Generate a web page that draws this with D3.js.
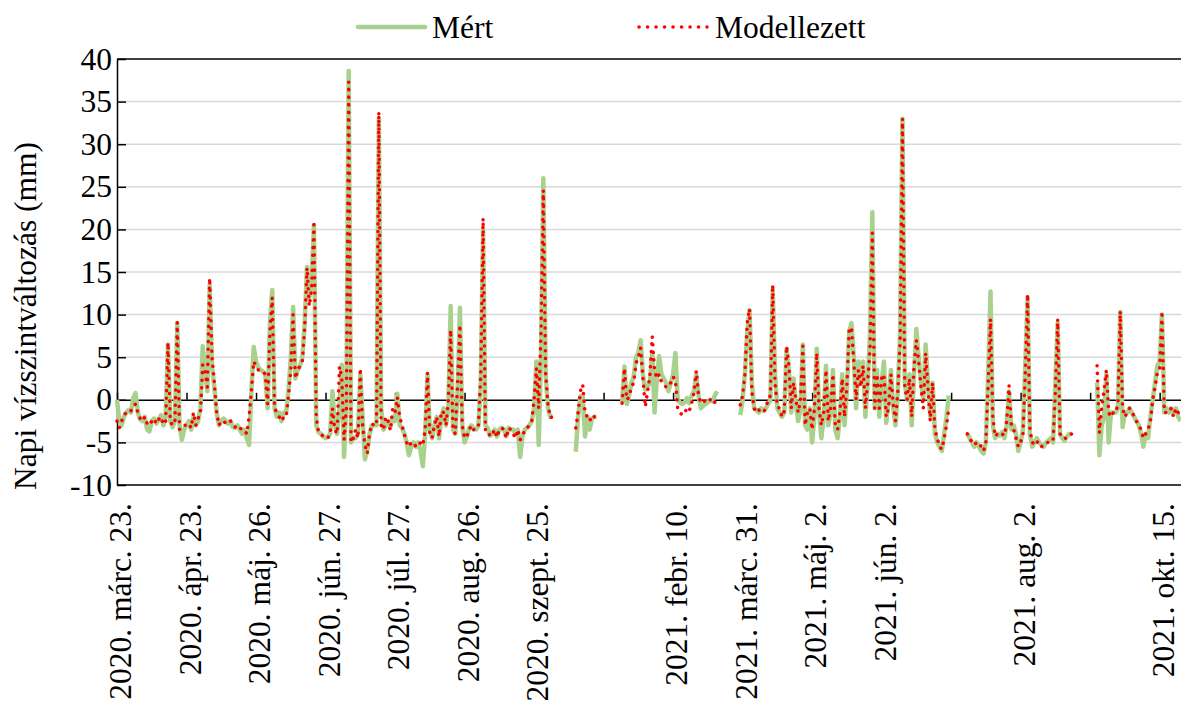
<!DOCTYPE html>
<html>
<head>
<meta charset="utf-8">
<script src="https://cdn.jsdelivr.net/npm/d3@7"></script>
<style>
  body { margin: 0; background: #fff; }
  text { font-family: "Liberation Serif", "Times New Roman", serif; fill: #000; }
</style>
</head>
<body>
<div id="chart"></div>
<script>
// labels shown every 30 categories (blank ones are empty date cells)
var labelEvery = 30;
var tickLabels = ['2020. márc. 23.', '2020. ápr. 23.', '2020. máj. 26.', '2020. jún. 27.',
  '2020. júl. 27.', '2020. aug. 26.', '2020. szept. 25.', '', '2021. febr. 10.',
  '2021. márc. 31.', '2021. máj. 2.', '2021. jún. 2.', '', '2021. aug. 2.', '', '2021. okt. 15.'];
var yTicks = [-10, -5, 0, 5, 10, 15, 20, 25, 30, 35, 40];
var seriesNames = ['Mért', 'Modellezett'];

// daily values, null = no data
var measured = [
  0, -2.5, -3, -2, -1.5, -1.2, -1.5, 0.2, 0.8, -1.5,
  -2.3, -2.5, -2, -3.5, -3.7, -2.5, -2.2, -2.8, -2.3, -1.8,
  -3, -2, 6.5, -2.5, -3.2, -2.5, 9, -3, -4.7, -3.5,
  -3, -2.5, -3.5, -2, -3, -2.5, -1, 6.3, 3, 1,
  13.5, 4, 1.5, -1.5, -3, -2.5, -2.2, -2.5, -2.8, -2.5,
  -3.2, -3.3, -3, -3.5, -4, -3.5, -4.5, -5.3, 1, 6.2,
  4.5, 3.8, 3.5, 3.3, 3, -1, 9, 12.9, -1, -2,
  -1.5, -2.5, -1.5, -1.5, 1, 4.9, 10.9, 2.5, 3.5, 4,
  5, 9, 15.6, 12, 14, 20.5, -3, -3.8, -4, -4.3,
  -4.5, -4.3, -4, 1, -3, -4, -1, 4.1, -6.7, 0,
  38.6, -5, -4.5, -4.5, -4, 3, -2, -7, -6, -4,
  -3, -3, -3, 33, -1, -3.5, -3, -2.5, -3.2, -2,
  -2.5, 0.7, -3, -3.3, -4, -5, -6.5, -5.5, -5, -5.5,
  -5, -6, -7.8, -4, 3, -3.5, -4.5, -3, -2, -4.5,
  -2, -1, -3, -1, 11, -3.5, -4, 1, 10.8, -3,
  -5, -4.3, -3.3, -3, -3.5, -3.5, -3, 2, 20, -3,
  -3.3, -4.2, -4, -3.5, -4.3, -3.5, -3.3, -3.5, -4.3, -3.3,
  -3.5, -3.5, -4, -3.5, -6.7, -4.3, -3.5, -3.3, -3, -2.5,
  -1, 4.5, -5.3, 5, 26, 3, -1, -2, -2, null,
  null, null, null, null, null, null, null, null, -6.1, -2,
  0.4, 0.5, -4.3, -2, -3.5, -2.2, -2, -2, null, null,
  null, null, null, null, null, null, null, null, -0.3, 3.9,
  -0.5, 0.5, 2, 2.7, 5, 5.5, 7, 3, 1.2, 1.5,
  2, 5.5, -1.5, 2.5, 5.1, 3, 2.5, 2, 1, 2,
  3, 5.5, 0, -0.3, -0.5, -0.3, 0.2, -0.4, 0.5, 1,
  3, 0.5, -1, -0.7, -0.5, -0.3, 0, -0.2, 0.5, 1,
  null, null, null, null, null, null, null, null, null, -1.8,
  0, 3, 8, 10.5, 2, -1, -1.2, -1.5, -1, -1.3,
  -1, -0.5, 0, 13, 3, -1, -1.5, -2, -1.5, 6,
  3.5, -1.5, 2.5, -0.5, -2.5, -1, 6.5, -3, -3.5, -1,
  -5, -2, 6, -1.5, -4.5, -2, 4, -3, -1.5, 3.5,
  -3.5, -4.5, -2, 3, -3, 1, 8, 9, 5, -1,
  4.5, 2, 4.5, -2, 2, 8, 22, -1, 3.5, -2,
  2, 4.5, -2.7, 0, 3.5, -1, -3, 1, 8, 33,
  2, 0, 3, -3, 3, 8.3, 5, 2, 0, 6.5,
  2, -2, 2, -4, -5, -5.5, -6, -4, -2, 0.5,
  null, null, null, null, null, null, null, -4, -4.5, -5,
  -5.5, -5, -5.5, -6, -6.3, -5, 3, 12.7, -3, -4.5,
  -4, -4.2, -3.8, -4.5, -3, 1, -3.5, -3, -4, -6,
  -5, -3.5, 4, 12, -4, -5.5, -5, -4.5, -5, -5.3,
  -5.5, -5, -4.8, -4.5, -5, 2, 9, -4, -4.5, -4.8,
  -4.3, -4, -4, null, null, null, null, null, null, null,
  null, null, null, 2, -6.5, -3, -2, 3, -5, -1.5,
  -1.5, -1.5, -1, 10.3, -3.2, -1.5, -1.5, -1, -1.5, -2,
  -2.5, -3, -4, -5.5, -4, -4.5, -2, 0, 2, 4,
  4.5, 10, -1.5, -1, -1.5, -1, -1.5, -1, -2, -2.5
];

var modelled = [
  -2.5, -3.3, -2.5, -1.8, -1.5, -1.2, -1.3, -0.8, -0.5, -1.5,
  -2.2, -2.5, -2, -2.8, -3, -2.5, -2.2, -2.8, -2.3, -2,
  -2.9, -2.5, 6.7, -2.5, -3, -2.5, 9.1, -3.5, -3.3, -3,
  -3, -2.8, -3.3, -1.5, -3, -2.2, -1.5, 4.1, 3.5, 1.5,
  14.3, 5, 2, -1.5, -3, -2.5, -2.5, -2.8, -2.8, -2.5,
  -3, -3.2, -3, -3.3, -3.5, -3.5, -4, -2, 1, 4.5,
  4, 3.5, 3.5, 3.3, 3, -0.5, 8, 12, -1, -1.5,
  -2, -2.5, -2, -2, 0.5, 3.5, 10, 2.5, 3.5, 4,
  4.5, 8.5, 15.5, 11, 13, 21, -2, -3.8, -4, -4.3,
  -4.5, -4.5, -4, -1, -3.5, -4, 3.9, 2.7, -4.7, -1,
  37.3, -5, -4.5, -3.5, -4.5, 3.7, -3, -5.3, -6.3, -4,
  -2.8, -3, -3, 33.8, -3, -3.5, -2, -2.5, -3.6, -1,
  -1.5, 0.3, -2, -3, -4, -5, -5.5, -5, -5, -5.5,
  -5.5, -5, -5.3, -3.5, 3.2, -4, -4.5, -3, -2, -4.3,
  -1.3, -1.5, -3, 0, 8.2, -3.5, -4, 2, 8.8, -3,
  -4.5, -4.3, -3.5, -3, -3.5, -3.5, -3, 3, 21.3, -3.5,
  -3.5, -4.3, -4, -3.5, -4.4, -3.5, -3.3, -3.5, -4.5, -3.3,
  -3.5, -4, -4.5, -3.5, -4.7, -4.3, -3.5, -3.3, -3, -2.5,
  0, 3.7, -1, 8, 24.6, 3, -0.5, -2.1, -2, null,
  null, null, null, null, null, null, null, null, -3.3, -1.5,
  1, 1.8, -1.5, -2, -2.5, -1.8, -2, -2, null, null,
  null, null, null, null, null, null, null, null, -0.4, 3.7,
  0, 0.3, 1.5, 2, 4.3, 5, 6.1, 2.5, -0.8, 1,
  2.9, 7.4, 3.5, 2.5, 3, 2.1, 1.8, 1.5, 1.5, 2,
  2.7, 2.3, -1.1, -1.5, -1.8, -1.5, -1, -1.3, -0.4, 0.8,
  3.4, 0.5, -0.4, -0.3, 0, -0.2, 0, 0.2, -0.3, -0.6,
  null, null, null, null, null, null, null, null, null, -0.6,
  0.5, 3, 9, 10.7, 1, -1, -1.5, -1.2, -1.3, -1.5,
  -1, 0, 0.5, 13.5, 2, -0.8, -1, -2, -1.3, 6.3,
  4, -1, 2, 0, -1.5, 0, 6.3, -3, -1.5, -1,
  -3.5, -1, 5.5, -1, -3, -1.5, 3.5, -2.5, -1, 3,
  -3, -3.5, -1.5, 2.5, -2, 1.5, 8.3, 8.5, 4.5, 0,
  3.5, 1.5, 4, -1, 2, 6, 19.6, -1, 3, -1,
  2.5, 3, -2, -1, 3, -0.5, -2.5, 1, 7, 33,
  1.5, 0, 2.5, -2, 4, 7, 4.5, 1.5, -1, 5.5,
  1.5, -2.5, 2, -3.5, -4.5, -5.5, -5.8, -4.5, -3, -1,
  null, null, null, null, null, null, null, -4, -4.5, -5,
  -5.3, -5, -5, -5.5, -6, -5, 2, 9.5, -2, -4.3,
  -4, -4.2, -4, -4.2, -2.5, 1.7, -3, -3.5, -4.5, -5.5,
  -5, -4, 3, 12.4, -3.5, -5, -5.2, -4.8, -5.5, -5.5,
  -5.3, -5, -5, -5, -4.8, 1, 9.5, -4, -4.5, -4.5,
  -4.5, -4.2, -4, null, null, null, null, null, null, null,
  null, null, null, 4, -3.9, -0.8, 1, 3.5, -1.5, -2,
  -1.5, -1.5, -0.5, 10.4, -1, -2, -1.5, -1, -1.3, -2,
  -2.5, -3, -3.5, -4.5, -4, -3.5, -2.5, 0, 1.5, 3.2,
  3.5, 10.4, -1.5, -1.5, -1.5, -1, -2, -1, -1.5, -2
];

var width = 1181, height = 707,
    plotLeft = 117, plotTop = 59, plotBottom = 485,
    step = 2.317,
    fontSize = 31.5;

var svg = d3.select('#chart').append('svg')
  .attr('width', width)
  .attr('height', height);

var x = d3.scaleLinear()
  .domain([0, measured.length])
  .range([plotLeft, plotLeft + measured.length * step]);
var y = d3.scaleLinear()
  .domain([-10, 40])
  .range([plotBottom, plotTop]);
var plotRight = x(measured.length);

// gridlines
svg.append('g').selectAll('line')
  .data(yTicks.filter(function(d) { return d !== -10 && d !== 40 && d !== 0; }))
  .enter().append('line')
  .attr('x1', plotLeft).attr('x2', plotRight)
  .attr('y1', function(d) { return y(d); })
  .attr('y2', function(d) { return y(d); })
  .attr('stroke', '#d9d9d9')
  .attr('stroke-width', 1.5);

// plot frame (top / bottom)
[40, -10].forEach(function(v) {
  svg.append('line')
    .attr('x1', plotLeft).attr('x2', plotRight)
    .attr('y1', y(v)).attr('y2', y(v))
    .attr('stroke', '#000').attr('stroke-width', 1.5);
});

// y axis
var yAxis = svg.append('g')
  .attr('transform', 'translate(' + plotLeft + ',0)')
  .call(d3.axisLeft(y).tickValues(yTicks).tickSize(-9).tickSizeOuter(0).tickPadding(5)
    .tickFormat(function(d) { return String(d); }));
yAxis.selectAll('path, line').attr('stroke', '#000').attr('stroke-width', 1.5);
yAxis.selectAll('text').attr('font-size', fontSize).style('font-family', '"Liberation Serif", serif');

// x axis on the zero line, ticks every labelEvery categories
var tickIdx = tickLabels.map(function(d, k) { return k * labelEvery; });
var xAxis = svg.append('g')
  .attr('transform', 'translate(0,' + y(0) + ')')
  .call(d3.axisTop(x).tickValues(tickIdx).tickSize(7).tickSizeOuter(0).tickFormat(''));
xAxis.selectAll('path, line').attr('stroke', '#000').attr('stroke-width', 1.5);

// x labels at the bottom, rotated
svg.append('g').selectAll('text')
  .data(tickLabels)
  .enter().append('text')
  .attr('transform', function(d, k) { return 'translate(' + (x(k * labelEvery) + 3) + ',503) rotate(-90)'; })
  .attr('dy', '0.35em')
  .attr('text-anchor', 'end')
  .attr('font-size', fontSize)
  .text(function(d) { return d; });

// y title
svg.append('text')
  .attr('transform', 'translate(25,' + 316 + ') rotate(-90)')
  .attr('dy', '0.35em')
  .attr('text-anchor', 'middle')
  .attr('font-size', fontSize)
  .text('Napi vízszintváltozás (mm)');

// lines
var line = d3.line()
  .defined(function(d) { return d !== null; })
  .x(function(d, i) { return x(i); })
  .y(function(d) { return y(d); });

svg.append('path')
  .datum(measured)
  .attr('d', line)
  .attr('fill', 'none')
  .attr('stroke', '#a9d18e')
  .attr('stroke-width', 4.5)
  .attr('stroke-linejoin', 'round');

svg.append('path')
  .datum(modelled)
  .attr('d', line)
  .attr('fill', 'none')
  .attr('stroke', '#ff0000')
  .attr('stroke-width', 3.5)
  .attr('stroke-linecap', 'round')
  .attr('stroke-linejoin', 'round')
  .attr('stroke-dasharray', '0.1 7.5');

// legend
var legend = svg.append('g');
legend.append('line')
  .attr('x1', 358).attr('x2', 425).attr('y1', 27).attr('y2', 27)
  .attr('stroke', '#a9d18e').attr('stroke-width', 4.5).attr('stroke-linecap', 'round');
legend.append('text')
  .attr('x', 432).attr('y', 38)
  .attr('font-size', fontSize)
  .text(seriesNames[0]);
legend.append('line')
  .attr('x1', 639).attr('x2', 707).attr('y1', 27).attr('y2', 27)
  .attr('stroke', '#ff0000').attr('stroke-width', 3.5).attr('stroke-linecap', 'round')
  .attr('stroke-dasharray', '0.1 8.4');
legend.append('text')
  .attr('x', 715).attr('y', 38)
  .attr('font-size', fontSize)
  .text(seriesNames[1]);
</script>
</body>
</html>
